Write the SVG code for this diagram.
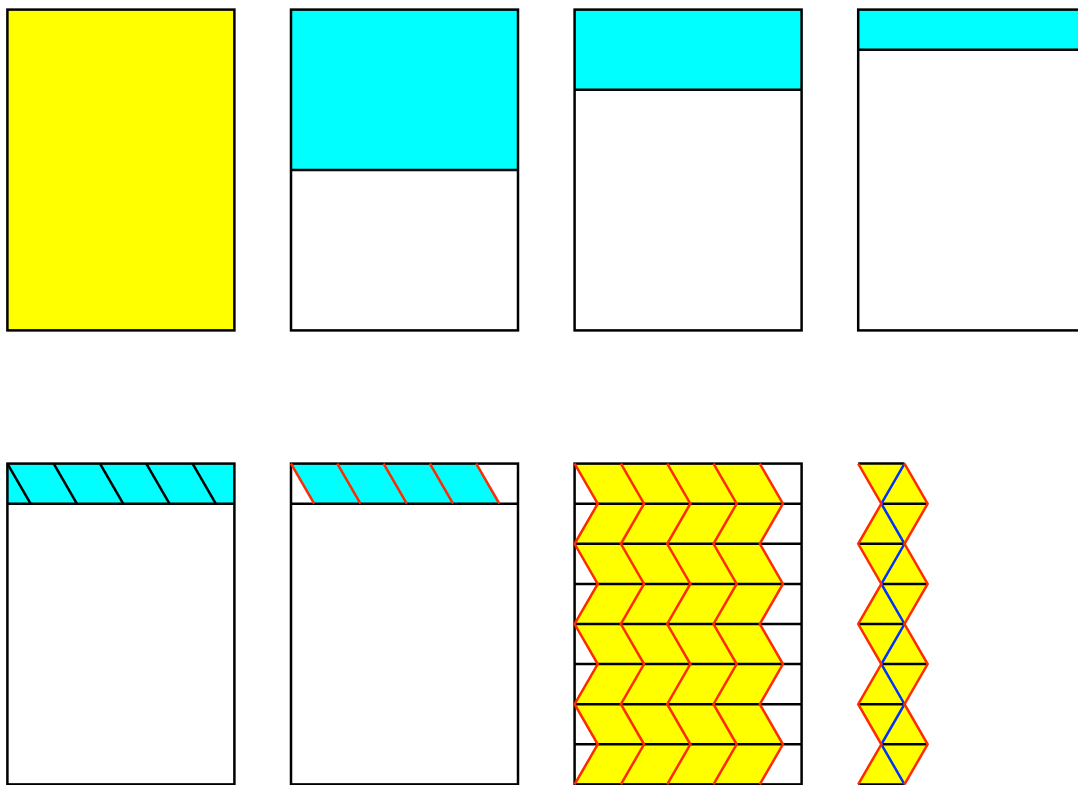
<svg xmlns="http://www.w3.org/2000/svg" xmlns:xlink="http://www.w3.org/1999/xlink" width="1078" height="785" viewBox="0 0 1078 785">
<style>
.box{fill:none;stroke:#000;stroke-width:2.5}
.blk{fill:none;stroke:#000;stroke-width:2.5}
.red{fill:none;stroke:#ff2a00;stroke-width:2.5;stroke-linejoin:miter}
.blu{fill:none;stroke:#0033ff;stroke-width:2.5}
.yel{fill:#ffff00;stroke:none}
.cya{fill:#00ffff;stroke:none}
</style>
<defs>
<polyline id="zz" class="red" points="0,0 23.15,40.1 0,80.2 23.15,120.3 0,160.4 23.15,200.5 0,240.6 23.15,280.7 0,320.8"/>
<line id="sl" x1="0" y1="0" x2="23.15" y2="40.1"/>
</defs>
<rect width="1078" height="785" fill="#fff"/>

<g id="panel1" transform="translate(7.4,9.6)">
<rect class="yel" width="227" height="320.8"/>
<rect class="box" width="227" height="320.8"/>
</g>

<g id="panel2" transform="translate(291,9.6)">
<rect class="cya" width="227" height="160.4"/>
<line class="blk" x1="0" y1="160.4" x2="227" y2="160.4"/>
<rect class="box" width="227" height="320.8"/>
</g>

<g id="panel3" transform="translate(574.6,9.6)">
<rect class="cya" width="227" height="80.2"/>
<line class="blk" x1="0" y1="80.2" x2="227" y2="80.2"/>
<rect class="box" width="227" height="320.8"/>
</g>

<g id="panel4" transform="translate(858.2,9.6)">
<rect class="cya" width="227" height="40.1"/>
<line class="blk" x1="0" y1="40.1" x2="227" y2="40.1"/>
<rect class="box" width="227" height="320.8"/>
</g>

<g id="panel5" transform="translate(7.4,463.6)">
<rect class="cya" width="227" height="40.1"/>
<g class="blk">
<use xlink:href="#sl"/>
<use xlink:href="#sl" x="46.3"/>
<use xlink:href="#sl" x="92.6"/>
<use xlink:href="#sl" x="138.9"/>
<use xlink:href="#sl" x="185.2"/>
</g>
<line class="blk" x1="0" y1="40.1" x2="227" y2="40.1"/>
<rect class="box" width="227" height="320.8"/>
</g>

<g id="panel6" transform="translate(291,463.6)">
<polygon class="cya" points="0,0 185.2,0 208.35,40.1 23.15,40.1"/>
<line class="blk" x1="0" y1="40.1" x2="227" y2="40.1"/>
<rect class="box" width="227" height="320.8"/>
<g class="red">
<use xlink:href="#sl"/>
<use xlink:href="#sl" x="46.3"/>
<use xlink:href="#sl" x="92.6"/>
<use xlink:href="#sl" x="138.9"/>
<use xlink:href="#sl" x="185.2"/>
</g>
</g>

<g id="panel7" transform="translate(574.6,463.6)">
<polygon class="yel" points="0,0 23.15,40.1 0,80.2 23.15,120.3 0,160.4 23.15,200.5 0,240.6 23.15,280.7 0,320.8 185.2,320.8 208.35,280.7 185.2,240.6 208.35,200.5 185.2,160.4 208.35,120.3 185.2,80.2 208.35,40.1 185.2,0"/>
<g class="blk">
<line x1="0" y1="40.1" x2="227" y2="40.1"/>
<line x1="0" y1="80.2" x2="227" y2="80.2"/>
<line x1="0" y1="120.3" x2="227" y2="120.3"/>
<line x1="0" y1="160.4" x2="227" y2="160.4"/>
<line x1="0" y1="200.5" x2="227" y2="200.5"/>
<line x1="0" y1="240.6" x2="227" y2="240.6"/>
<line x1="0" y1="280.7" x2="227" y2="280.7"/>
</g>
<rect class="box" width="227" height="320.8"/>
<use xlink:href="#zz"/>
<use xlink:href="#zz" x="46.3"/>
<use xlink:href="#zz" x="92.6"/>
<use xlink:href="#zz" x="138.9"/>
<use xlink:href="#zz" x="185.2"/>
</g>

<g id="panel8" transform="translate(858.2,463.6)">
<polygon class="yel" points="0,0 23.15,40.1 0,80.2 23.15,120.3 0,160.4 23.15,200.5 0,240.6 23.15,280.7 0,320.8 46.3,320.8 69.45,280.7 46.3,240.6 69.45,200.5 46.3,160.4 69.45,120.3 46.3,80.2 69.45,40.1 46.3,0"/>
<g class="blk">
<line x1="0" y1="0" x2="46.3" y2="0"/>
<line x1="23.15" y1="40.1" x2="69.45" y2="40.1"/>
<line x1="0" y1="80.2" x2="46.3" y2="80.2"/>
<line x1="23.15" y1="120.3" x2="69.45" y2="120.3"/>
<line x1="0" y1="160.4" x2="46.3" y2="160.4"/>
<line x1="23.15" y1="200.5" x2="69.45" y2="200.5"/>
<line x1="0" y1="240.6" x2="46.3" y2="240.6"/>
<line x1="23.15" y1="280.7" x2="69.45" y2="280.7"/>
<line x1="0" y1="320.8" x2="46.3" y2="320.8"/>
</g>
<polyline class="blu" points="46.3,0 23.15,40.1 46.3,80.2 23.15,120.3 46.3,160.4 23.15,200.5 46.3,240.6 23.15,280.7 46.3,320.8"/>
<use xlink:href="#zz"/>
<use xlink:href="#zz" x="46.3"/>
</g>
</svg>
